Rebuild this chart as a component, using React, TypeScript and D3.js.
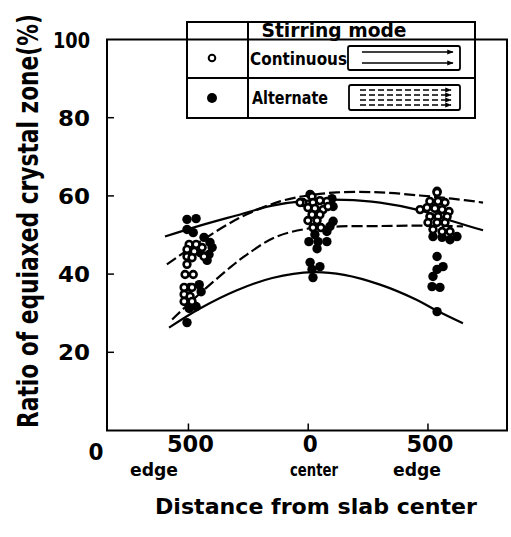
import React, { useEffect, useRef } from "react";
import * as d3 from "d3";

// [distance from slab center (mm, left edge negative), ratio of equiaxed zone (%)]
type Pt = [number, number];

const continuousPts: Pt[] = [
  [-497, 47.6], [-468, 47.6], [-443, 46.8], [-506, 46.3], [-476, 45.8],
  [-506, 44.5], [-485, 44.2], [-435, 44.5], [-506, 42.5], [-514, 39.9],
  [-480, 39.9], [-518, 36.6], [-485, 36.6], [-518, 34.8], [-493, 34.3],
  [-518, 33.0], [-485, 33.0],
  [16, 59.8], [-22, 58.3], [20, 58.3], [49, 58.8], [78, 58.6], [-34, 58.3],
  [-1, 57.0], [28, 56.8], [62, 56.5], [83, 57.3], [16, 55.2], [49, 55.2],
  [-1, 53.7], [37, 53.7], [20, 51.9], [53, 51.9],
  [538, 60.9], [508, 58.6], [542, 58.6], [571, 58.3], [467, 56.5],
  [496, 57.0], [529, 56.8], [559, 56.5], [588, 56.0], [508, 54.7],
  [542, 54.7], [580, 54.7], [500, 53.2], [538, 53.2], [571, 53.2],
  [521, 51.4], [559, 50.9], [592, 50.9],
];

const alternatePts: Pt[] = [
  [-506, 54.0], [-468, 54.2], [-506, 51.4], [-480, 50.6], [-435, 49.4],
  [-410, 48.1], [-401, 46.8], [-414, 45.0], [-422, 43.5], [-451, 45.5],
  [-455, 37.3], [-493, 36.6], [-447, 35.5], [-468, 31.7], [-497, 31.2],
  [-506, 27.6],
  [8, 60.4], [99, 59.3], [104, 57.3], [104, 53.5], [91, 52.2], [78, 50.9],
  [28, 50.1], [3, 48.3], [41, 48.3], [78, 48.3], [37, 46.5], [8, 43.0],
  [49, 41.9], [16, 41.2], [20, 39.1],
  [538, 61.2], [521, 49.6], [559, 49.4], [592, 48.8], [621, 49.6],
  [538, 44.5], [563, 41.9], [538, 41.2], [521, 39.4], [517, 36.8],
  [550, 36.6], [538, 30.4],
];

// fitted curves
const solidUpper: Pt[] = [
  [-598, 49.6], [-452, 52.4], [-300, 55.0], [-150, 57.5], [0, 58.8],
  [150, 59.0], [300, 58.3], [467, 56.3], [600, 53.6], [730, 51.2],
];
const solidLower: Pt[] = [
  [-581, 26.3], [-452, 31.2], [-300, 35.8], [-150, 39.0], [20, 40.5],
  [150, 39.8], [300, 37.3], [450, 33.5], [538, 30.6], [646, 27.4],
];
const dashedUpper: Pt[] = [
  [-590, 42.5], [-500, 46.3], [-423, 49.4], [-340, 52.6], [-256, 55.3],
  [-118, 58.6], [0, 60.1], [120, 60.9], [300, 60.9], [467, 60.1],
  [600, 59.3], [730, 58.3],
];
const dashedLower: Pt[] = [
  [-568, 28.4], [-480, 33.5], [-410, 37.3], [-330, 41.5], [-256, 45.0],
  [-139, 49.4], [-5, 51.6], [133, 52.2], [300, 52.3], [467, 52.4],
  [646, 52.2],
];

const yTicks = [20, 40, 60, 80, 100];
const xTicks = [-500, 0, 500];
const xTickLabels = ["500", "0", "500"];
const xSubLabels = ["edge", "center", "edge"];

const FONT = "DejaVu Sans";

export default function App() {
  const svgRef = useRef<SVGSVGElement>(null);

  useEffect(() => {
    const width = 511;
    const height = 537;
    const svg = d3.select(svgRef.current).attr("width", width).attr("height", height);
    svg.selectAll("*").remove();

    const x = d3.scaleLinear().domain([-840, 830]).range([107, 507]);
    const y = d3.scaleLinear().domain([0, 100]).range([430.5, 39.5]);

    const defs = svg.append("defs");
    defs
      .append("marker")
      .attr("id", "arr")
      .attr("viewBox", "0 0 10 10")
      .attr("refX", 9)
      .attr("refY", 5)
      .attr("markerWidth", 4)
      .attr("markerHeight", 4)
      .attr("orient", "auto")
      .append("path")
      .attr("d", "M0,1 L10,5 L0,9 Z")
      .attr("fill", "#000");

    // frame
    svg
      .append("rect")
      .attr("x", x(-840))
      .attr("y", y(100))
      .attr("width", x(830) - x(-840))
      .attr("height", y(0) - y(100))
      .attr("fill", "none")
      .attr("stroke", "#000")
      .attr("stroke-width", 2);

    // y ticks + labels
    svg
      .append("g")
      .selectAll("line")
      .data(yTicks.filter((t) => t < 100))
      .join("line")
      .attr("x1", x(-840))
      .attr("x2", x(-840) + 7)
      .attr("y1", (d) => y(d))
      .attr("y2", (d) => y(d))
      .attr("stroke", "#000")
      .attr("stroke-width", 1.5);
    svg
      .append("g")
      .selectAll("text")
      .data(yTicks)
      .join("text")
      .attr("x", 90)
      .attr("y", (d) => y(d) + 8)
      .attr("text-anchor", "end")
      .attr("font-family", FONT)
      .attr("font-weight", "bold")
      .attr("font-size", 21)
      .attr("textLength", (d) => (d === 100 ? 37 : 32))
      .attr("lengthAdjust", "spacingAndGlyphs")
      .text((d) => String(d));

    // x ticks + labels
    svg
      .append("g")
      .selectAll("line")
      .data(xTicks)
      .join("line")
      .attr("x1", (d) => x(d))
      .attr("x2", (d) => x(d))
      .attr("y1", y(0))
      .attr("y2", y(0) - 7)
      .attr("stroke", "#000")
      .attr("stroke-width", 1.5);
    svg
      .append("g")
      .selectAll("text")
      .data(xTicks)
      .join("text")
      .attr("x", (d) => x(d) + 2)
      .attr("y", 452)
      .attr("text-anchor", "middle")
      .attr("font-family", FONT)
      .attr("font-weight", "bold")
      .attr("font-size", 23)
      .attr("textLength", (_, i) => (xTickLabels[i] === "0" ? 15 : 47))
      .attr("lengthAdjust", "spacingAndGlyphs")
      .text((_, i) => xTickLabels[i]);
    svg
      .append("text")
      .attr("x", 96)
      .attr("y", 460)
      .attr("text-anchor", "middle")
      .attr("font-family", FONT)
      .attr("font-weight", "bold")
      .attr("font-size", 23)
      .attr("textLength", 15)
      .attr("lengthAdjust", "spacingAndGlyphs")
      .text("0");
    const subX = [154, 314, 417];
    svg
      .append("g")
      .selectAll("text")
      .data(xSubLabels)
      .join("text")
      .attr("x", (_, i) => subX[i])
      .attr("y", 476)
      .attr("text-anchor", "middle")
      .attr("font-family", FONT)
      .attr("font-weight", "bold")
      .attr("font-size", 17)
      .attr("textLength", 48)
      .attr("lengthAdjust", "spacingAndGlyphs")
      .text((d) => d);

    // axis titles
    svg
      .append("text")
      .attr("x", 316)
      .attr("y", 514)
      .attr("text-anchor", "middle")
      .attr("font-family", FONT)
      .attr("font-weight", "bold")
      .attr("font-size", 21)
      .attr("textLength", 322)
      .attr("lengthAdjust", "spacingAndGlyphs")
      .text("Distance from slab center");
    // tall, narrow lettering: smaller font stretched across the baseline
    svg
      .append("text")
      .attr("transform", "translate(38, 221) rotate(-90) scale(1, 1.27)")
      .attr("text-anchor", "middle")
      .attr("font-family", FONT)
      .attr("font-weight", "bold")
      .attr("font-size", 22)
      .attr("textLength", 414)
      .attr("lengthAdjust", "spacingAndGlyphs")
      .text("Ratio of equiaxed crystal zone(%)");

    // curves
    const line = d3
      .line<Pt>()
      .x((d) => x(d[0]))
      .y((d) => y(d[1]))
      .curve(d3.curveCatmullRom);
    const curves: [Pt[], boolean][] = [
      [solidUpper, false],
      [solidLower, false],
      [dashedUpper, true],
      [dashedLower, true],
    ];
    curves.forEach(([pts, dashed]) => {
      svg
        .append("path")
        .datum(pts)
        .attr("fill", "none")
        .attr("stroke", "#000")
        .attr("stroke-width", 2.2)
        .attr("stroke-dasharray", dashed ? "11 4" : null)
        .attr("d", line);
    });

    // points
    svg
      .append("g")
      .selectAll("circle")
      .data(alternatePts)
      .join("circle")
      .attr("cx", (d) => x(d[0]))
      .attr("cy", (d) => y(d[1]))
      .attr("r", 4.7)
      .attr("fill", "#000");
    svg
      .append("g")
      .selectAll("circle")
      .data(continuousPts)
      .join("circle")
      .attr("cx", (d) => x(d[0]))
      .attr("cy", (d) => y(d[1]))
      .attr("r", 3.4)
      .attr("fill", "#fff")
      .attr("stroke", "#000")
      .attr("stroke-width", 2.6);

    // legend table
    const lg = svg.append("g");
    lg.append("rect")
      .attr("x", 187)
      .attr("y", 22)
      .attr("width", 288)
      .attr("height", 96)
      .attr("fill", "#fff")
      .attr("stroke", "#000")
      .attr("stroke-width", 2);
    [39.5, 78].forEach((yy) =>
      lg.append("line").attr("x1", 187).attr("x2", 475).attr("y1", yy).attr("y2", yy)
        .attr("stroke", "#000").attr("stroke-width", 2),
    );
    lg.append("line").attr("x1", 248).attr("x2", 248).attr("y1", 22).attr("y2", 118)
      .attr("stroke", "#000").attr("stroke-width", 2);
    const ltext = (tx: number, ty: number, s: string, fs: number, len: number, anchor = "start") =>
      lg.append("text")
        .attr("x", tx)
        .attr("y", ty)
        .attr("text-anchor", anchor)
        .attr("font-family", FONT)
        .attr("font-weight", "bold")
        .attr("font-size", fs)
        .attr("textLength", len)
        .attr("lengthAdjust", "spacingAndGlyphs")
        .text(s);
    ltext(334, 37, "Stirring  mode", 19, 145, "middle");
    ltext(250, 65, "Continuous", 17, 97);
    ltext(252, 104, "Alternate", 17, 76);
    lg.append("circle").attr("cx", 212).attr("cy", 58).attr("r", 3.3)
      .attr("fill", "#fff").attr("stroke", "#000").attr("stroke-width", 2);
    lg.append("circle").attr("cx", 212).attr("cy", 98).attr("r", 5).attr("fill", "#000");
    [[348, 46, 112, 24], [349, 85, 111, 25]].forEach(([bx, by, bw, bh]) =>
      lg.append("rect").attr("x", bx).attr("y", by).attr("width", bw).attr("height", bh)
        .attr("rx", 2).attr("fill", "none").attr("stroke", "#000").attr("stroke-width", 1.8),
    );
    [52, 63].forEach((yy) =>
      lg.append("line").attr("x1", 362).attr("x2", 453).attr("y1", yy).attr("y2", yy)
        .attr("stroke", "#000").attr("stroke-width", 1.6).attr("marker-end", "url(#arr)"),
    );
    [90, 95, 100, 105].forEach((yy) =>
      lg.append("line").attr("x1", 360).attr("x2", 451).attr("y1", yy).attr("y2", yy)
        .attr("stroke", "#000").attr("stroke-width", 1.6).attr("stroke-dasharray", "6 3")
        .attr("marker-end", "url(#arr)"),
    );
  }, []);

  return <svg ref={svgRef} style={{ position: "absolute", left: 0, top: 0 }} />;
}
